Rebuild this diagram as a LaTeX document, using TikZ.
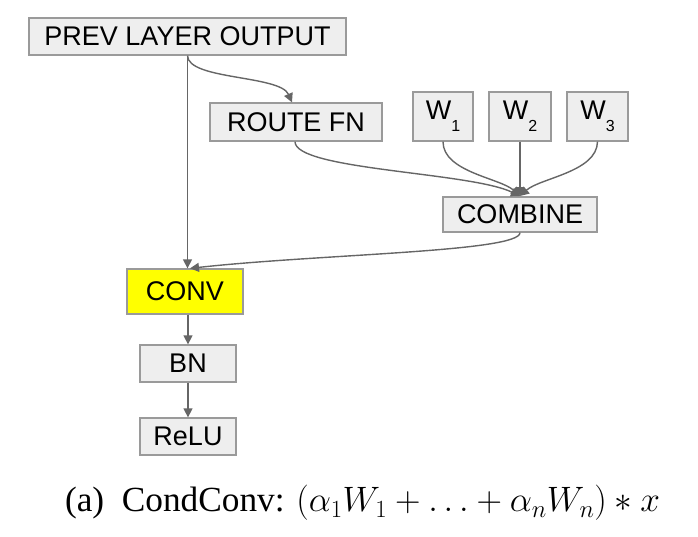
\RequirePackage{fix-cm}
\documentclass[tikz,border=0pt]{standalone}
\usepackage{fontspec}
\setmainfont{Liberation Serif}
\newfontfamily\boxfont{Liberation Sans}
\usetikzlibrary{arrows.meta}
\definecolor{boxgray}{HTML}{EEEEEE}
\definecolor{edgegray}{HTML}{9A9A9A}
\definecolor{linegray}{HTML}{666666}
\definecolor{convyellow}{HTML}{FFFF00}
\newcommand{\wsub}[1]{W\raisebox{-0.45em}{\fontsize{16}{16}\selectfont #1}}
\begin{document}
\begin{tikzpicture}[x=1pt, y=-1pt,
    blk/.style={draw=edgegray, fill=boxgray, line width=1.3pt, inner sep=0pt,
                font=\boxfont\fontsize{27}{32}\selectfont},
    arr/.style={draw=linegray, line width=1.4pt, -{Triangle[width=9pt,length=9pt]}}]
  \useasboundingbox (0,0) rectangle (698,536);
  % boxes
  \node[blk, minimum width=317pt, minimum height=37pt] (prev) at (187.5,36.5) {PREV LAYER OUTPUT};
  \node[blk, minimum width=172pt, minimum height=38pt] (route) at (296,122) {ROUTE FN};
  \node[blk, minimum width=60pt, minimum height=49pt] (wone) at (443,116.5) {\wsub{1}};
  \node[blk, minimum width=62pt, minimum height=49pt] (wtwo) at (520,116.5) {\wsub{2}};
  \node[blk, minimum width=61pt, minimum height=49pt] (wthree) at (597.5,116.5) {\wsub{3}};
  \node[blk, minimum width=154pt, minimum height=35pt] (combine) at (520,214.5) {COMBINE};
  \node[blk, fill=convyellow, minimum width=116pt, minimum height=45pt] (conv) at (185,291.5) {CONV};
  \node[blk, minimum width=96pt, minimum height=37pt] (bn) at (188,363.5) {BN};
  \node[blk, minimum width=96pt, minimum height=37pt] (relu) at (188,436.5) {ReLU};
  \coordinate (mix) at (520,196);
  % connectors
  \draw[arr] (prev.south) -- (prev.south |- conv.north);
  \draw[arr] (prev.south) .. controls (188,80) and (280,75) .. ([xshift=-4pt]route.north);
  \draw[arr] ([xshift=-1pt]route.south) .. controls (295,170) and (470,172) .. (mix);
  \draw[arr] (wone.south) .. controls (443,172) and (500,178) .. (mix);
  \draw[arr] (wtwo.south) -- (mix);
  \draw[arr] (wthree.south) .. controls (597,172) and (540,178) .. (mix);
  \draw[arr] (combine.south) .. controls (520,252) and (320,254) .. ([xshift=5pt]conv.north);
  \draw[arr] (conv.south -| bn.north) -- (bn.north);
  \draw[arr] (bn.south) -- (relu.north);
  % caption
  \node[font=\fontsize{35.3}{42}\selectfont] (caption) at (362.5,503)
    {(a)\enspace CondConv: $(\alpha_1W_1+\ldots+\alpha_nW_n)*x$};
\end{tikzpicture}
\end{document}
